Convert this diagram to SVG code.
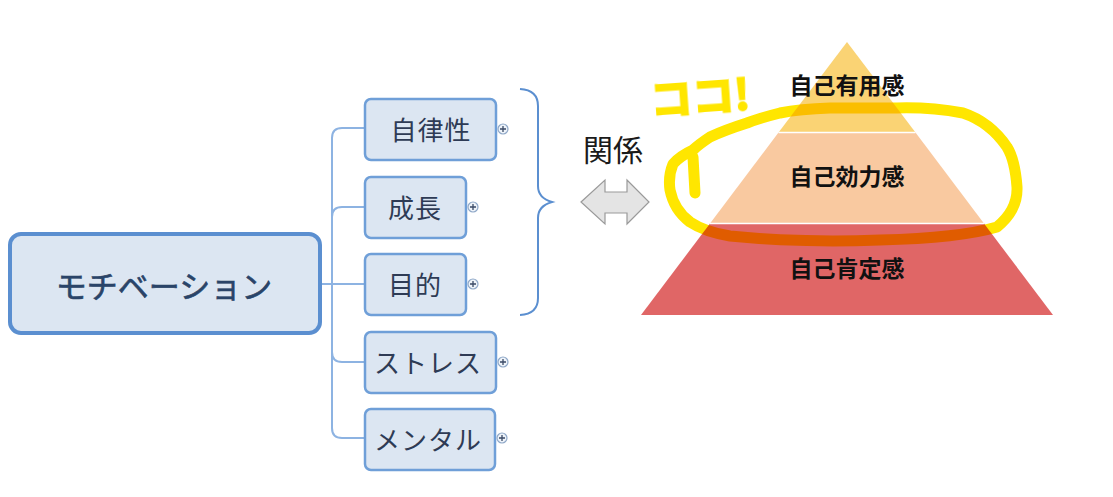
<svg xmlns="http://www.w3.org/2000/svg" width="1113" height="497" viewBox="0 0 1113 497">
<style>
.jp{font-family:"Noto Sans CJK JP","Noto Sans",sans-serif}
.child rect{fill:#DCE6F2;stroke:#6F9FD8;stroke-width:2.5}
.child text{font-size:26px;fill:#2E3B55;text-anchor:middle;letter-spacing:1px}
.plus circle{fill:#EEF3F9;stroke:#8FA8C8;stroke-width:1.2}
.plus path{stroke:#3A4A66;stroke-width:1.3}
.conn path{fill:none;stroke:#8DB3E2;stroke-width:2}
.lvl text{font-size:23px;font-weight:bold;fill:#111;text-anchor:middle}
</style>
<rect width="1113" height="497" fill="#fff"/>
<g class="conn" id="connectors">
<path d="M322,284 H365"/>
<path d="M332,284 V138 Q332,128 342,128 H365"/>
<path d="M332,284 V217 Q332,207 342,207 H365"/>
<path d="M332,284 V352 Q332,362 342,362 H365"/>
<path d="M332,284 V428 Q332,438 342,438 H365"/>
</g>
<g id="main">
<rect x="10" y="234" width="310" height="99" rx="11" fill="#DCE6F2" stroke="#5B8FD0" stroke-width="4"/>
<text class="jp" x="164" y="298" font-size="31" fill="#2A4468" stroke="#2A4468" stroke-width="0.6" text-anchor="middle">モチベーション</text>
</g>
<g id="n-jiritsu" class="child"><rect x="365" y="99" width="131" height="61" rx="6"/><text class="jp" x="431" y="140">自律性</text></g>
<g id="n-seicho" class="child"><rect x="365" y="177" width="101" height="61" rx="6"/><text class="jp" x="415" y="218">成長</text></g>
<g id="n-mokuteki" class="child"><rect x="365" y="254" width="101" height="61" rx="6"/><text class="jp" x="415" y="295">目的</text></g>
<g id="n-stress" class="child"><rect x="365" y="332" width="131" height="61" rx="6"/><text class="jp" x="428" y="373">ストレス</text></g>
<g id="n-mental" class="child"><rect x="365" y="409" width="130" height="61" rx="6"/><text class="jp" x="428" y="450">メンタル</text></g>
<g id="plus-icons" class="plus">
<circle cx="503" cy="129" r="5"/><path d="M500,129h6M503,126v6"/>
<circle cx="473" cy="207" r="5"/><path d="M470,207h6M473,204v6"/>
<circle cx="473" cy="284" r="5"/><path d="M470,284h6M473,281v6"/>
<circle cx="503" cy="362" r="5"/><path d="M500,362h6M503,359v6"/>
<circle cx="502" cy="438" r="5"/><path d="M499,438h6M502,435v6"/>
</g>
<g id="brace">
<path d="M520,89 Q538,90 538,106 V186 Q538,198 552,202 Q538,206 538,218 V298 Q538,314 520,315" fill="none" stroke="#5B8FD0" stroke-width="2"/>
</g>
<g id="relation">
<text class="jp" x="583" y="161" font-size="30" fill="#1a1a1a">関係</text>
<polygon points="581,202 605,180 605,192 627,192 627,180 649,202 627,224 627,213 605,213 605,224" fill="#E4E4E4" stroke="#9A9A9A" stroke-width="1.2"/>
</g>
<g id="pyramid" class="lvl">
<polygon points="847,42 915.5,132.5 778.5,132.5" fill="#FAD374"/>
<polygon points="778.5,132.5 915.5,132.5 984,223.5 710,223.5" fill="#F9C9A0"/>
<polygon points="710,223.5 984,223.5 1053,315 641,315" fill="#E06666"/>
<path d="M778.5,132.5 H915.5 M710,223.5 H984" stroke="#fff" stroke-width="1.5"/>
<text class="jp" x="847" y="94">自己有用感</text>
<text class="jp" x="847" y="185">自己効力感</text>
<text class="jp" x="847" y="277">自己肯定感</text>
</g>
<g id="highlight" style="mix-blend-mode:multiply">
<path d="M693,157 L695,193 M673,164 Q668,176 670,190 Q674,210 690,222 Q705,232 730,236 Q800,243 880,240 Q960,238 997,227 Q1018,210 1017,187 Q1015,160 1007,147 Q990,122 963,113 Q930,107 897,108 L830,108 Q800,109 780,113 Q760,118 747,123 Q725,130 710,137 Q698,145 693,150 Q680,156 673,164" fill="none" stroke="#FFE600" stroke-width="11" stroke-linecap="round" stroke-linejoin="round"/>
<text class="jp" x="650" y="113" font-size="42" font-weight="bold" fill="#FFE600" stroke="#FFE600" stroke-width="2" transform="rotate(-4 690 95)">ココ!</text>
</g>
</svg>
